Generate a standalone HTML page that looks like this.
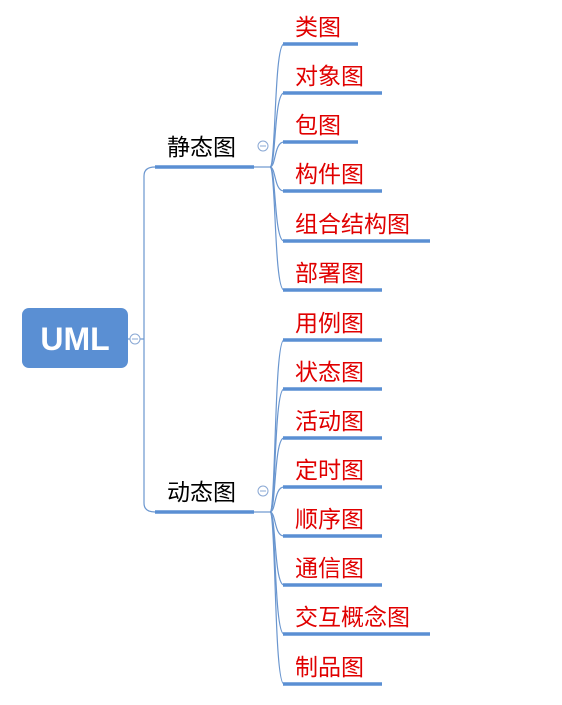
<!DOCTYPE html>
<html><head><meta charset="utf-8"><style>
html,body{margin:0;padding:0;background:#fff;width:562px;height:705px;overflow:hidden}
svg text{font-family:"Liberation Sans","Noto Sans CJK SC",sans-serif}
</style></head><body>
<svg width="562" height="705" viewBox="0 0 562 705" xmlns="http://www.w3.org/2000/svg">
<rect x="22" y="308" width="106" height="60" rx="7" fill="#5a8fd3"/>
<text x="75" y="350" text-anchor="middle" font-size="32" font-weight="bold" fill="#fff">UML</text>
<g fill="none" stroke="#6a96cf" stroke-width="1.2">
<line x1="128" y1="339" x2="144" y2="339"/>
<path d="M155,167 Q144,167 144,176 L144,503 Q144,512 155,512"/>
<line x1="254" y1="167" x2="270" y2="167"/>
<line x1="254" y1="512" x2="270" y2="512"/>
</g>
<circle cx="135" cy="339" r="5" fill="#fff" stroke="#8aa8d4" stroke-width="1"/>
<line x1="132" y1="339" x2="138" y2="339" stroke="#8aa8d4"/>
<circle cx="263" cy="146" r="5" fill="#fff" stroke="#8aa8d4" stroke-width="1"/>
<line x1="260" y1="146" x2="266" y2="146" stroke="#8aa8d4"/>
<circle cx="263" cy="491" r="5" fill="#fff" stroke="#8aa8d4" stroke-width="1"/>
<line x1="260" y1="491" x2="266" y2="491" stroke="#8aa8d4"/>
<g stroke="#5a8fd3" stroke-width="3.5">
<line x1="155" y1="167" x2="254" y2="167"/>
<line x1="155" y1="512" x2="254" y2="512"/>
</g>
<text x="167" y="155" font-size="23" fill="#000">静态图</text>
<text x="167" y="500" font-size="23" fill="#000">动态图</text>
<g fill="none" stroke="#6a96cf" stroke-width="1.2">
<path d="M270,167 C276,167 274,44 284,44"/>
<path d="M270,167 C276,167 274,93 284,93"/>
<path d="M270,167 C276,167 274,142 284,142"/>
<path d="M270,167 C276,167 274,191 284,191"/>
<path d="M270,167 C276,167 274,241 284,241"/>
<path d="M270,167 C276,167 274,290 284,290"/>
<path d="M270,512 C276,512 274,340 284,340"/>
<path d="M270,512 C276,512 274,389 284,389"/>
<path d="M270,512 C276,512 274,438 284,438"/>
<path d="M270,512 C276,512 274,487 284,487"/>
<path d="M270,512 C276,512 274,536 284,536"/>
<path d="M270,512 C276,512 274,585 284,585"/>
<path d="M270,512 C276,512 274,634 284,634"/>
<path d="M270,512 C276,512 274,684 284,684"/>
</g>
<g stroke="#5a8fd3" stroke-width="3.5">
<line x1="283" y1="44" x2="358" y2="44"/>
<line x1="283" y1="93" x2="382" y2="93"/>
<line x1="283" y1="142" x2="358" y2="142"/>
<line x1="283" y1="191" x2="382" y2="191"/>
<line x1="283" y1="241" x2="430" y2="241"/>
<line x1="283" y1="290" x2="382" y2="290"/>
<line x1="283" y1="340" x2="382" y2="340"/>
<line x1="283" y1="389" x2="382" y2="389"/>
<line x1="283" y1="438" x2="382" y2="438"/>
<line x1="283" y1="487" x2="382" y2="487"/>
<line x1="283" y1="536" x2="382" y2="536"/>
<line x1="283" y1="585" x2="382" y2="585"/>
<line x1="283" y1="634" x2="430" y2="634"/>
<line x1="283" y1="684" x2="382" y2="684"/>
</g>
<g font-size="23" fill="#e00000">
<text x="295" y="35">类图</text>
<text x="295" y="84">对象图</text>
<text x="295" y="133">包图</text>
<text x="295" y="182">构件图</text>
<text x="295" y="232">组合结构图</text>
<text x="295" y="281">部署图</text>
<text x="295" y="331">用例图</text>
<text x="295" y="380">状态图</text>
<text x="295" y="429">活动图</text>
<text x="295" y="478">定时图</text>
<text x="295" y="527">顺序图</text>
<text x="295" y="576">通信图</text>
<text x="295" y="625">交互概念图</text>
<text x="295" y="675">制品图</text>
</g>
</svg>
</body></html>
